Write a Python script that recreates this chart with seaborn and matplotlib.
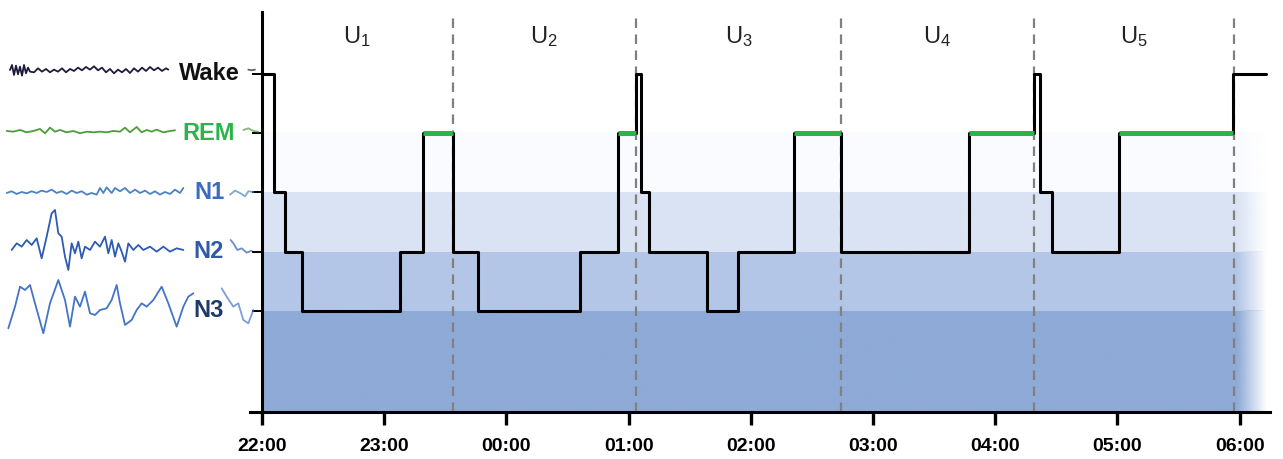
import matplotlib
matplotlib.use('Agg')
import matplotlib.pyplot as plt
import seaborn as sns
import numpy as np
import pandas as pd
from matplotlib.colors import to_rgb

sns.set_style('white')
plt.rcParams['font.family'] = ['Liberation Sans', 'DejaVu Sans']
plt.rcParams['mathtext.fontset'] = 'custom'
plt.rcParams['mathtext.rm'] = 'Liberation Sans'
plt.rcParams['mathtext.default'] = 'regular'

# ── data ─────────────────────────────────────────────────────────
stage_level = {'N3': 1, 'N2': 2, 'N1': 3, 'REM': 4, 'Wake': 5}
label_colors = {'Wake': '#111111', 'REM': '#2db34a', 'N1': '#3a6cc0',
                'N2': '#2f5aa8', 'N3': '#1f3a6a'}
trace_colors = {'Wake': '#1c1c3c', 'REM': '#4a9e3a', 'N1': '#4a82c4',
                'N2': '#2d5bb4', 'N3': '#4474c4'}

# hypnogram epochs: start (hours after 22:00) and stage
epoch_start = [0.00, 0.10, 0.19, 0.33, 1.13, 1.315, 1.56, 1.765, 2.60, 2.916,
               3.06, 3.10, 3.17, 3.644, 3.898, 4.356, 4.739, 5.786, 6.315,
               6.366, 6.464, 7.017, 7.949]
epoch_stage = ['Wake', 'N1', 'N2', 'N3', 'N2', 'REM', 'N2', 'N3', 'N2', 'REM',
               'Wake', 'N1', 'N2', 'N3', 'N2', 'REM', 'N2', 'REM', 'Wake',
               'N1', 'N2', 'REM', 'Wake']
record_end = 8.214

# sleep-cycle boundaries (dashed) and their labels
unit_bounds = [0.0, 1.56, 3.06, 4.74, 6.315, 7.955]
unit_labels = ['U$_1$', 'U$_2$', 'U$_3$', 'U$_4$', 'U$_5$']

tick_hours = list(range(9))
tick_labels = ['22:00', '23:00', '00:00', '01:00', '02:00', '03:00',
               '04:00', '05:00', '06:00']

# background bands (stage level ranges)
band_ranges = [(-0.705, 1), (1, 2), (2, 3), (3, 4)]
band_colors = ['#8eaad6', '#b4c6e7', '#dae3f3', '#fafbfe']
band_end, fade_end = 7.99, 8.23

# example EEG traces (image px at 3x, crop top y)
traces = {
    'Wake': (55,
             [30, 36, 42, 48, 54, 60, 66, 72, 78, 84, 90, 102, 114, 126, 138, 150,
              162, 174, 186, 198, 210, 222, 234, 246, 258, 270, 282, 294, 306, 318,
              330, 342, 354, 366, 378, 390, 402, 414, 426, 438, 450, 462, 474, 486,
              498, 505],
             [45, 30, 60, 32, 58, 35, 62, 30, 55, 38, 50, 52, 40, 50, 42, 52, 44,
              50, 40, 52, 42, 48, 38, 46, 36, 44, 34, 46, 38, 52, 42, 55, 44, 52,
              42, 54, 40, 50, 38, 48, 36, 46, 38, 48, 40, 44]),
    'REM': (115,
            [20, 40, 60, 80, 100, 120, 135, 150, 165, 180, 200, 220, 240, 260, 280,
             300, 320, 340, 360, 375, 390, 410, 425, 440, 455, 470, 490, 510, 525],
            [48, 50, 45, 52, 48, 42, 55, 38, 50, 45, 52, 48, 55, 50, 52, 50, 52,
             48, 50, 38, 52, 36, 52, 45, 50, 44, 52, 48, 46]),
    'N1': (178,
           [20, 35, 50, 65, 80, 95, 110, 125, 140, 155, 170, 185, 200, 215, 230,
            245, 260, 275, 290, 300, 310, 320, 335, 345, 360, 375, 390, 405, 420,
            435, 450, 465, 480, 495, 510, 525, 540, 550],
           [45, 40, 48, 42, 46, 40, 45, 38, 42, 35, 45, 40, 48, 38, 45, 40, 50,
            45, 50, 30, 45, 28, 45, 30, 40, 30, 45, 35, 45, 38, 48, 40, 50, 42,
            48, 35, 45, 30]),
    'N2': (200,
           [35, 50, 65, 80, 95, 110, 125, 140, 155, 165, 175, 185, 195, 205, 215,
            225, 235, 245, 255, 270, 285, 300, 315, 325, 335, 345, 355, 365, 375,
            385, 400, 415, 430, 450, 470, 490, 510, 530, 550],
           [150, 130, 140, 120, 135, 115, 175, 110, 40, 30, 100, 110, 170, 210,
            130, 160, 125, 175, 140, 150, 125, 140, 110, 160, 120, 170, 130, 155,
            185, 130, 150, 135, 150, 140, 155, 140, 155, 145, 150]),
    'N3': (270,
           [25, 45, 60, 75, 90, 105, 130, 150, 175, 195, 210, 225, 240, 255, 270,
            285, 300, 320, 335, 350, 360, 375, 395, 410, 425, 440, 460, 485, 505,
            530, 550, 565, 580],
           [175, 110, 50, 60, 45, 100, 190, 100, 30, 90, 170, 80, 110, 65, 130,
            135, 120, 115, 90, 45, 100, 165, 150, 120, 100, 110, 90, 50, 100, 170,
            110, 80, 70]),
}
# short pieces between each label and the axis
trace_tails = {
    'Wake': (55, [745, 755, 765], [44, 46, 44]),
    'REM': (115, [730, 745, 760, 775], [45, 40, 48, 50]),
    'N1': (178, [690, 705, 720, 735, 745, 760], [50, 38, 45, 55, 40, 42]),
    'N2': (200, [692, 700, 712, 725, 740, 755], [120, 130, 150, 145, 158, 152]),
    'N3': (270, [665, 680, 700, 715, 730, 745, 760],
           [55, 80, 110, 100, 150, 160, 120]),
}


def px_to_level(y_px):
    # Wake sits at image y=74, each stage is ~59.25 px apart
    return 5 - (np.asarray(y_px) - 74) / 59.25


# ── figure ───────────────────────────────────────────────────────
W, H = 1283, 459
fig = plt.figure(figsize=(W / 100, H / 100), dpi=100)
ax = fig.add_axes([250 / W, 47 / H, 1020 / W, 400 / H])
ax.set_facecolor('none')

# bands with a fade on the right
n_cols = 400
xs = np.linspace(0, fade_end, n_cols)
alpha = np.clip((fade_end - xs) / (fade_end - band_end), 0, 1)
for (lo, hi), col in zip(band_ranges, band_colors):
    img = np.zeros((2, n_cols, 4))
    img[..., :3] = to_rgb(col)
    img[..., 3] = alpha
    ax.imshow(img, extent=(0, fade_end, lo, hi), aspect='auto',
              interpolation='bilinear', zorder=0)

for b in unit_bounds[1:]:
    ax.axvline(b, color='#808080', lw=1.6, dashes=(4.3, 2.9), zorder=1)

hyp = pd.DataFrame({'t': epoch_start + [record_end],
                    'level': [stage_level[s] for s in epoch_stage] + [stage_level['Wake']]})
sns.lineplot(data=hyp, x='t', y='level', drawstyle='steps-post', color='black',
             lw=2.2, estimator=None, sort=False, ax=ax, zorder=3)

ends = epoch_start[1:] + [record_end]
for s, e, st in zip(epoch_start, ends, epoch_stage):
    if st == 'REM':
        ax.hlines(stage_level['REM'], s, e, color='#2db34a', lw=3.6, zorder=4)

for i, lab in enumerate(unit_labels):
    mid = (unit_bounds[i] + unit_bounds[i + 1]) / 2
    ax.text(mid, 5.64, lab, ha='center', va='center', fontsize=17, color='#222222')

ax.set_xlim(-0.098, 8.249)
ax.set_ylim(-0.705, 6.046)
ax.set_xticks(tick_hours, tick_labels)
ax.set_yticks(list(stage_level.values()), [''] * len(stage_level))
ax.tick_params(axis='x', bottom=True, direction='out', length=9, width=2.4,
               pad=10, labelsize=14, colors='black')
ax.tick_params(axis='y', left=True, direction='out', length=7.5, width=1.4,
               colors='black')
for lab in ax.get_xticklabels():
    lab.set_fontweight('bold')
    lab.set_family(['Liberation Sans Narrow', 'Liberation Sans'])
ax.set_xlabel('')
ax.set_ylabel('')
for side in ['top', 'right']:
    ax.spines[side].set_visible(False)
ax.spines['left'].set_position(('data', 0))
for side in ['left', 'bottom']:
    ax.spines[side].set_linewidth(2.2)
    ax.spines[side].set_color('black')
ax.grid(False)

# ── left panel: stage names with example traces ──────────────────
axw = fig.add_axes([0, 47 / H, 262 / W, 400 / H])
axw.set_xlim(0, 262)
axw.set_ylim(-0.705, 6.046)
axw.axis('off')
for st, (top, zx, zy) in traces.items():
    axw.plot(np.array(zx) / 3, px_to_level(top + np.array(zy) / 3),
             color=trace_colors[st], lw=1.3)
for st, (top, zx, zy) in trace_tails.items():
    axw.plot(np.array(zx) / 3, px_to_level(top + np.array(zy) / 3),
             color=trace_colors[st], lw=1.3, alpha=0.7)
for st, lvl in stage_level.items():
    axw.text(209, lvl, st, ha='center', va='center', fontsize=17,
             fontweight='bold', color=label_colors[st])

fig.savefig('out.png', dpi=100)
